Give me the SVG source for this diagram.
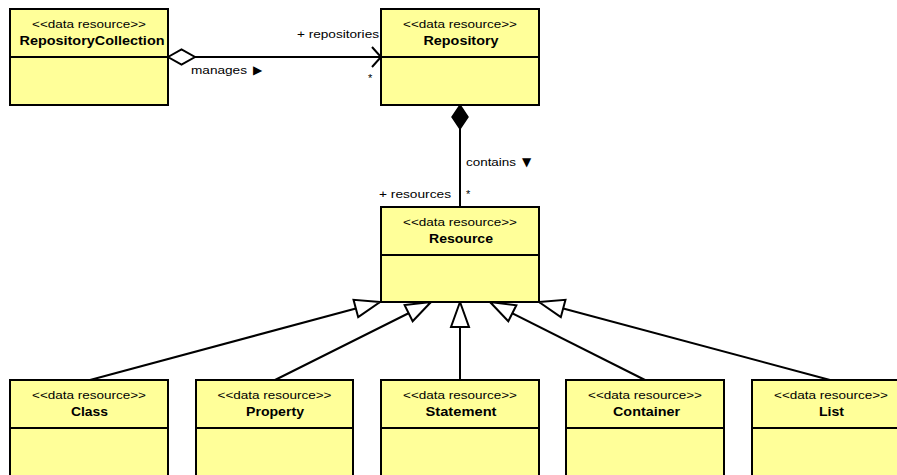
<svg xmlns="http://www.w3.org/2000/svg" width="897" height="475" viewBox="0 0 897 475">
  <style>
    .box { fill: #FFFF99; stroke: #000; stroke-width: 2; }
    .div { stroke: #000; stroke-width: 2; }
    .st { font-family: "Liberation Sans", Arial, sans-serif; font-size: 11px; text-anchor: middle; fill: #000; }
    .nm { font-family: "Liberation Sans", Arial, sans-serif; font-size: 12px; font-weight: bold; text-anchor: middle; fill: #000; }
    .lbl { font-family: "Liberation Sans", Arial, sans-serif; font-size: 11px; fill: #000; }
    .sym { font-family: "DejaVu Sans", sans-serif; font-size: 12px; fill: #000; }
    .edge { stroke: #000; stroke-width: 2; fill: none; }
  </style>
  <defs>
    <marker id="diamondOpen" markerUnits="userSpaceOnUse" viewBox="-2 -10 31 20" markerWidth="31" markerHeight="20" refX="0" refY="0" orient="auto">
      <path d="M0,0 L13.5,-7.5 L27,0 L13.5,7.5 Z" fill="#fff" stroke="#000" stroke-width="2"/>
    </marker>
    <marker id="diamondFilled" markerUnits="userSpaceOnUse" viewBox="-2 -10 30 20" markerWidth="30" markerHeight="20" refX="0" refY="0" orient="auto">
      <path d="M0,0 L12,-8 L24,0 L12,8 Z" fill="#000" stroke="#000" stroke-width="1.5"/>
    </marker>
    <marker id="openArrow" markerUnits="userSpaceOnUse" viewBox="-12 -12 14 24" markerWidth="14" markerHeight="24" refX="0" refY="0" orient="auto">
      <path d="M-9,-10 L0,0 L-9,10" fill="none" stroke="#000" stroke-width="2"/>
    </marker>
    <marker id="genTriangle" markerUnits="userSpaceOnUse" viewBox="-28 -12 30 24" markerWidth="30" markerHeight="24" refX="0" refY="0" orient="auto">
      <path d="M0,0 L-25,-9 L-25,9 Z" fill="#fff" stroke="#000" stroke-width="2" stroke-linejoin="miter"/>
    </marker>
  </defs>

  <!-- connectors -->
  <g id="connectors">
    <line class="edge" x1="168" y1="57" x2="381" y2="57" marker-start="url(#diamondOpen)" marker-end="url(#openArrow)"/>
    <line class="edge" x1="460" y1="105" x2="460" y2="207" marker-start="url(#diamondFilled)"/>
    <line class="edge" x1="90" y1="380" x2="380" y2="302" marker-end="url(#genTriangle)"/>
    <line class="edge" x1="275" y1="380" x2="431" y2="302" marker-end="url(#genTriangle)"/>
    <line class="edge" x1="460" y1="380" x2="460" y2="302" marker-end="url(#genTriangle)"/>
    <line class="edge" x1="645" y1="380" x2="490" y2="302" marker-end="url(#genTriangle)"/>
    <line class="edge" x1="830" y1="380" x2="539" y2="302" marker-end="url(#genTriangle)"/>

    <!-- association labels -->
    <text class="lbl" x="297" y="38" textLength="82" lengthAdjust="spacingAndGlyphs">+ repositories</text>
    <text class="lbl" x="368" y="82">*</text>
    <text class="lbl" x="191" y="74" textLength="56" lengthAdjust="spacingAndGlyphs">manages</text>
    <text class="sym" x="253" y="74">▶</text>
    <text class="lbl" x="466" y="166" textLength="50" lengthAdjust="spacingAndGlyphs">contains</text>
    <text class="sym" x="522" y="166">▼</text>
    <text class="lbl" x="379" y="198" textLength="72" lengthAdjust="spacingAndGlyphs">+ resources</text>
    <text class="lbl" x="466" y="198">*</text>
  </g>

  <!-- classes -->
  <g id="RepositoryCollection">
    <rect class="box" x="10" y="9" width="158" height="96"/>
    <line class="div" x1="10" y1="57" x2="168" y2="57"/>
    <text class="st" x="89" y="28" textLength="114" lengthAdjust="spacingAndGlyphs">&lt;&lt;data resource&gt;&gt;</text>
    <text class="nm" x="92" y="45" textLength="145" lengthAdjust="spacingAndGlyphs">RepositoryCollection</text>
  </g>

  <g id="Repository">
    <rect class="box" x="381" y="9" width="158" height="96"/>
    <line class="div" x1="381" y1="57" x2="539" y2="57"/>
    <text class="st" x="460" y="28" textLength="114" lengthAdjust="spacingAndGlyphs">&lt;&lt;data resource&gt;&gt;</text>
    <text class="nm" x="461" y="45" textLength="75" lengthAdjust="spacingAndGlyphs">Repository</text>
  </g>

  <g id="Resource">
    <rect class="box" x="381" y="207" width="158" height="95"/>
    <line class="div" x1="381" y1="255" x2="539" y2="255"/>
    <text class="st" x="460" y="226" textLength="114" lengthAdjust="spacingAndGlyphs">&lt;&lt;data resource&gt;&gt;</text>
    <text class="nm" x="461" y="243" textLength="64" lengthAdjust="spacingAndGlyphs">Resource</text>
  </g>

  <g id="Class">
    <rect class="box" x="10" y="380" width="158" height="120"/>
    <line class="div" x1="10" y1="428" x2="168" y2="428"/>
    <text class="st" x="89" y="399" textLength="114" lengthAdjust="spacingAndGlyphs">&lt;&lt;data resource&gt;&gt;</text>
    <text class="nm" x="89.5" y="416" textLength="37" lengthAdjust="spacingAndGlyphs">Class</text>
  </g>

  <g id="Property">
    <rect class="box" x="196" y="380" width="157" height="120"/>
    <line class="div" x1="196" y1="428" x2="353" y2="428"/>
    <text class="st" x="274.5" y="399" textLength="114" lengthAdjust="spacingAndGlyphs">&lt;&lt;data resource&gt;&gt;</text>
    <text class="nm" x="275" y="416" textLength="58" lengthAdjust="spacingAndGlyphs">Property</text>
  </g>

  <g id="Statement">
    <rect class="box" x="381" y="380" width="158" height="120"/>
    <line class="div" x1="381" y1="428" x2="539" y2="428"/>
    <text class="st" x="460" y="399" textLength="114" lengthAdjust="spacingAndGlyphs">&lt;&lt;data resource&gt;&gt;</text>
    <text class="nm" x="461" y="416" textLength="71" lengthAdjust="spacingAndGlyphs">Statement</text>
  </g>

  <g id="Container">
    <rect class="box" x="566" y="380" width="158" height="120"/>
    <line class="div" x1="566" y1="428" x2="724" y2="428"/>
    <text class="st" x="645" y="399" textLength="114" lengthAdjust="spacingAndGlyphs">&lt;&lt;data resource&gt;&gt;</text>
    <text class="nm" x="646.5" y="416" textLength="67" lengthAdjust="spacingAndGlyphs">Container</text>
  </g>

  <g id="List">
    <rect class="box" x="752" y="380" width="158" height="120"/>
    <line class="div" x1="752" y1="428" x2="910" y2="428"/>
    <text class="st" x="831" y="399" textLength="114" lengthAdjust="spacingAndGlyphs">&lt;&lt;data resource&gt;&gt;</text>
    <text class="nm" x="831.5" y="416" textLength="25" lengthAdjust="spacingAndGlyphs">List</text>
  </g>
</svg>
